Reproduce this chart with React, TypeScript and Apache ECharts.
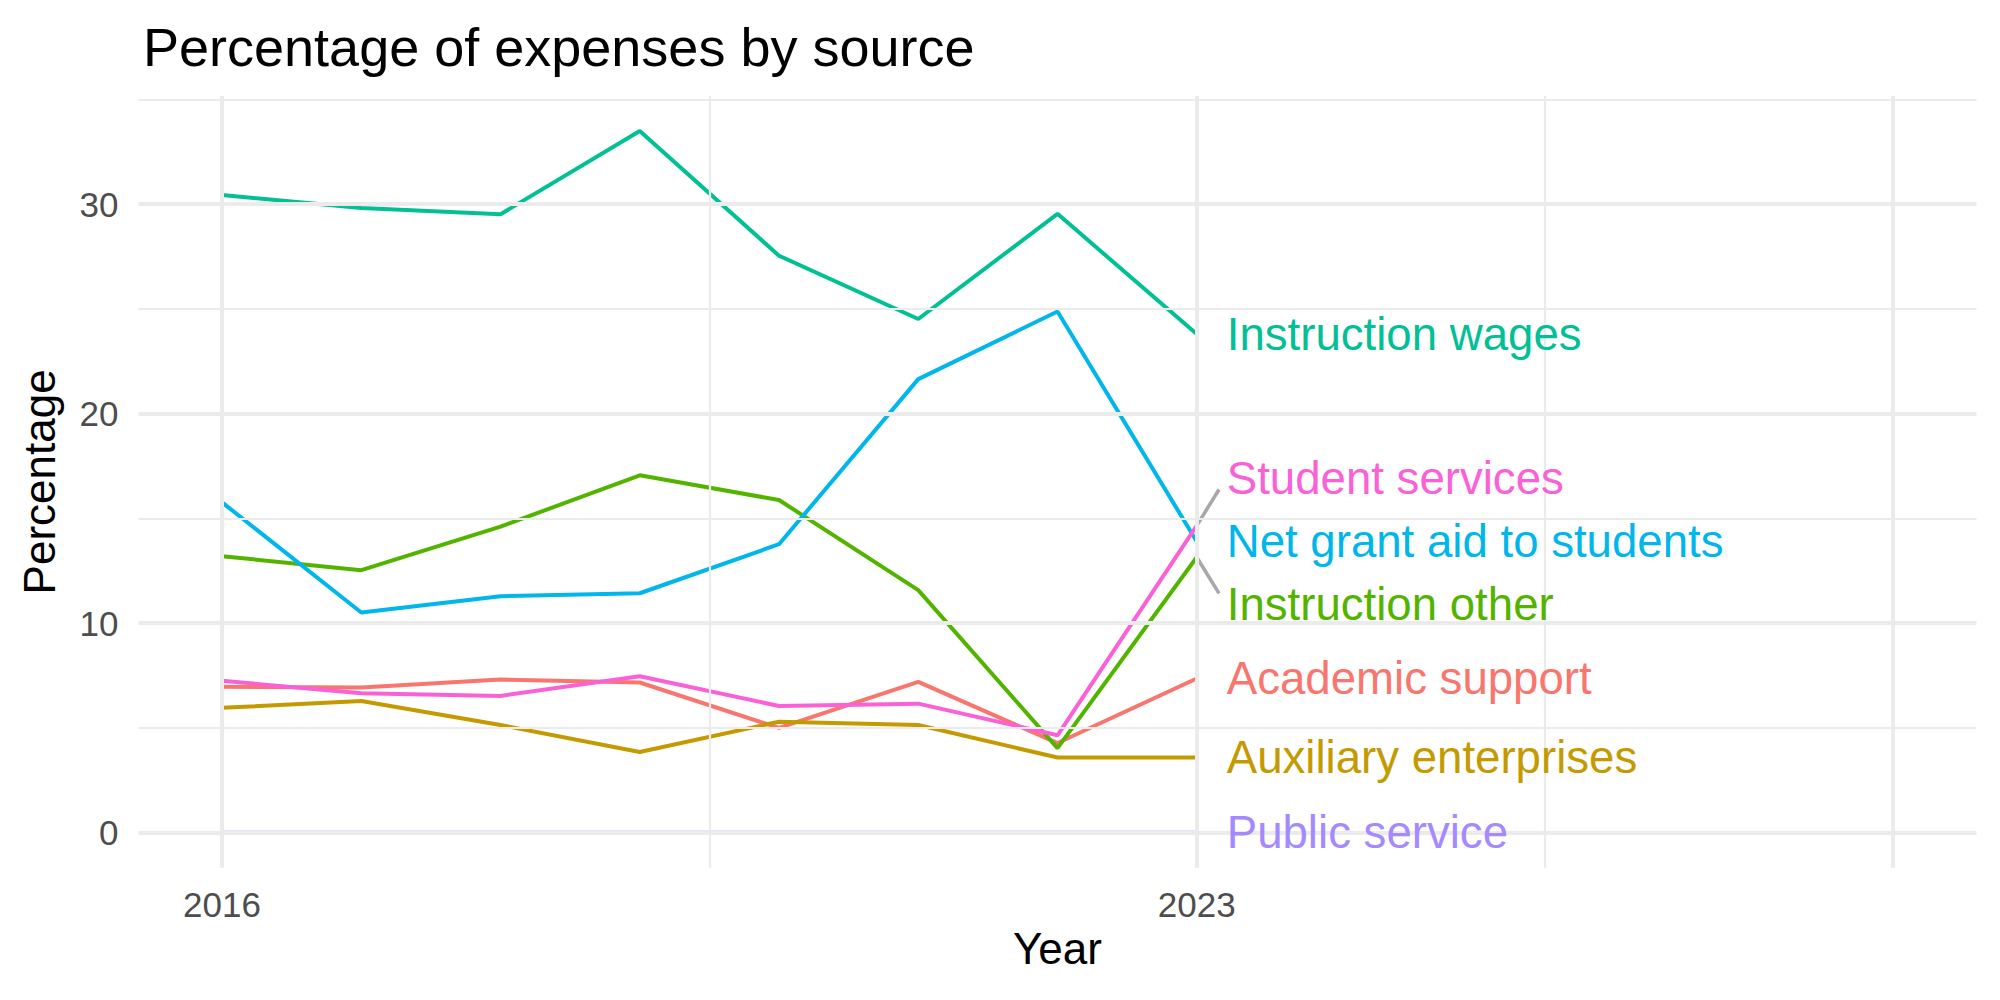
import React, { useEffect, useRef } from "react";
import * as echarts from "echarts";

// Reporting years and axis layout
const years = [2016, 2017, 2018, 2019, 2020, 2021, 2022, 2023];
const xLimits = [2016, 2028];
const xBreaks = [2016, 2023, 2028];
const xBreakLabels = [2016, 2023];
const yBreaks = [0, 10, 20, 30];

// Percentage of expenses, one array per source
const academicSupport = [6.97, 6.93, 7.31, 7.17, 5.0, 7.2, 4.28, 7.36];
const auxiliaryEnterprises = [5.96, 6.29, 5.14, 3.85, 5.3, 5.14, 3.59, 3.59];
const instructionOther = [13.2, 12.53, 14.61, 17.06, 15.88, 11.58, 4.04, 13.15];
const instructionWages = [30.44, 29.82, 29.52, 33.49, 27.54, 24.52, 29.54, 23.8];
const netGrantAid = [15.77, 10.51, 11.29, 11.43, 13.77, 21.65, 24.88, 13.9];
const publicService = [0, 0, 0, 0, 0, 0, 0, 0];
const studentServices = [7.25, 6.66, 6.53, 7.47, 6.05, 6.16, 4.65, 14.66];

const sourceNames = [
  "Academic support",
  "Auxiliary enterprises",
  "Instruction other",
  "Instruction wages",
  "Net grant aid to students",
  "Public service",
  "Student services",
];
const sourceColors = ["#F8766D", "#C49A00", "#53B400", "#00C094", "#00B6EB", "#A58AFF", "#FB61D7"];
const sourceValues = [
  academicSupport,
  auxiliaryEnterprises,
  instructionOther,
  instructionWages,
  netGrantAid,
  publicService,
  studentServices,
];

const FONT = "'Liberation Sans', Arial, Helvetica, sans-serif";
const LABEL_GAP = 3.02; // minimum vertical spacing between end labels, in data units
const SEG_DX = 0.16; // horizontal reach of leader segments, in years
const SEG_PAD = 0.54; // segment stops short of the label centre, in data units

// Spread end labels apart: overlapping neighbours are merged into clusters
// that are centred on the mean of their end values.
function spreadLabels(ends: number[], gap: number): number[] {
  const order = ends.map((_, i) => i).sort((a, b) => ends[b] - ends[a]);
  let clusters = order.map((i) => ({ members: [i], center: ends[i] }));
  const positions = (c: { members: number[]; center: number }) =>
    c.members.map((_, k) => c.center + ((c.members.length - 1) / 2 - k) * gap);
  let merged = true;
  while (merged) {
    merged = false;
    for (let j = 0; j < clusters.length - 1; j++) {
      const a = clusters[j];
      const b = clusters[j + 1];
      const pa = positions(a);
      const pb = positions(b);
      if (pa[pa.length - 1] - pb[0] < gap - 1e-9) {
        const members = a.members.concat(b.members);
        const center = members.reduce((s, m) => s + ends[m], 0) / members.length;
        clusters.splice(j, 2, { members, center });
        merged = true;
        break;
      }
    }
  }
  const out = new Array(ends.length).fill(0);
  clusters.forEach((c) => {
    const p = positions(c);
    c.members.forEach((m, k) => (out[m] = p[k]));
  });
  return out;
}

function expand(lo: number, hi: number, mult = 0.05): [number, number] {
  const pad = (hi - lo) * mult;
  return [lo - pad, hi + pad];
}

export default function App() {
  const ref = useRef<HTMLDivElement>(null);

  useEffect(() => {
    if (!ref.current) return;
    const chart = echarts.init(ref.current, undefined, { renderer: "svg" });

    const allValues = sourceValues.flat();
    const [yMin, yMax] = expand(Math.min(...allValues), Math.max(...allValues));
    const [xMin, xMax] = expand(xLimits[0], xLimits[1]);

    const yStep = yBreaks[1] - yBreaks[0];
    const yMinor: number[] = [];
    for (let v = yBreaks[0] - yStep / 2; v <= yMax; v += yStep) {
      if (v >= yMin && !yBreaks.includes(v)) yMinor.push(v);
    }
    const xMinor = xBreaks.slice(1).map((b, i) => (b + xBreaks[i]) / 2);

    const gridColor = "#EBEBEB";
    const major = { color: gridColor, width: 4, type: "solid" as const, opacity: 1 };
    const minor = { color: gridColor, width: 2.2, type: "solid" as const, opacity: 1 };

    const lastYear = years[years.length - 1];
    const ends = sourceValues.map((v) => v[v.length - 1]);
    const labelPos = spreadLabels(ends, LABEL_GAP);

    const lineSeries = sourceNames.map((name, i) => ({
      name,
      type: "line",
      data: years.map((y, k) => [y, sourceValues[i][k]]),
      showSymbol: false,
      symbol: "none",
      lineStyle: { color: sourceColors[i], width: 4, opacity: 1 },
      itemStyle: { color: sourceColors[i] },
      z: 3,
      silent: true,
    }));

    const segmentSeries = sourceNames
      .map((name, i) => ({ name, i }))
      .filter(({ i }) => Math.abs(labelPos[i] - ends[i]) > 0.6)
      .map(({ name, i }) => {
        const dir = Math.sign(labelPos[i] - ends[i]);
        return {
          name: name + " segment",
          type: "line",
          data: [
            [lastYear, ends[i]],
            [lastYear + SEG_DX, labelPos[i] - dir * SEG_PAD],
          ],
          showSymbol: false,
          symbol: "none",
          lineStyle: { color: "#A8A8A8", width: 3.6, opacity: 1 },
          z: 4,
          silent: true,
        };
      });

    const labelSeries = sourceNames.map((name, i) => ({
      name: name + " label",
      type: "scatter",
      symbolSize: 0,
      itemStyle: { color: sourceColors[i], opacity: 1 },
      z: 5,
      silent: true,
      data: [[lastYear, labelPos[i]]],
      label: {
        show: true,
        position: "right",
        distance: 30,
        formatter: name,
        fontFamily: FONT,
        fontSize: 45.6,
        color: sourceColors[i],
        opacity: 1,
        textBorderWidth: 0,
      },
    }));

    const option = {
      animation: false,
      backgroundColor: "#FFFFFF",
      title: {
        text: "Percentage of expenses by source",
        left: 138,
        top: 15,
        textStyle: { fontFamily: FONT, fontSize: 54, fontWeight: "normal", color: "#000000" },
      },
      grid: { left: 138.5, right: 23.5, top: 96, bottom: 132.2 },
      xAxis: {
        type: "value",
        min: xMin,
        max: xMax,
        name: "Year",
        nameLocation: "middle",
        nameGap: 59,
        nameTextStyle: { fontFamily: FONT, fontSize: 44, color: "#000000" },
        axisLine: { show: false },
        axisTick: { show: false },
        splitLine: { show: false },
        axisLabel: {
          customValues: xBreakLabels,
          formatter: (v: number) => String(v),
          fontFamily: FONT,
          fontSize: 35,
          color: "#4D4D4D",
          margin: 19,
        },
      },
      yAxis: {
        type: "value",
        min: yMin,
        max: yMax,
        name: "Percentage",
        nameLocation: "middle",
        nameRotate: 90,
        nameGap: 77,
        nameTextStyle: { fontFamily: FONT, fontSize: 44, color: "#000000" },
        axisLine: { show: false },
        axisTick: { show: false },
        splitLine: { show: false },
        axisLabel: {
          customValues: yBreaks,
          formatter: (v: number) => String(v),
          fontFamily: FONT,
          fontSize: 35,
          color: "#4D4D4D",
          margin: 20,
        },
      },
      series: [
        {
          name: "grid",
          type: "line",
          data: [],
          z: 1,
          silent: true,
          markLine: {
            silent: true,
            symbol: ["none", "none"],
            label: { show: false },
            animation: false,
            data: [
              ...yMinor.map((v) => ({ yAxis: v, lineStyle: minor })),
              ...xMinor.map((v) => ({ xAxis: v, lineStyle: minor })),
              ...yBreaks.map((v) => ({ yAxis: v, lineStyle: major })),
              ...xBreaks.map((v) => ({ xAxis: v, lineStyle: major })),
            ],
          },
        },
        ...lineSeries,
        ...segmentSeries,
        ...labelSeries,
      ],
    };

    chart.setOption(option as any);
    return () => chart.dispose();
  }, []);

  return (
    <div
      ref={ref}
      style={{ position: "absolute", left: 0, top: 0, width: 2000, height: 1000, background: "#FFFFFF" }}
    />
  );
}
